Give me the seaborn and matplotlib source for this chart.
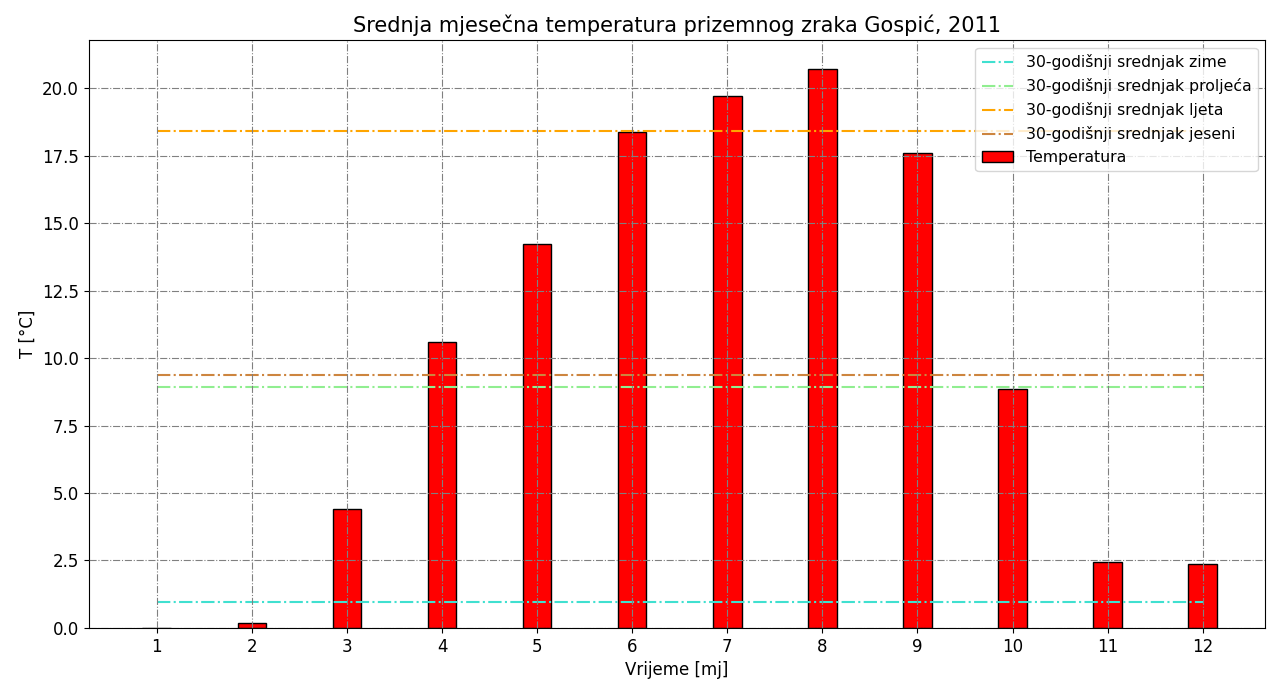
# plot.py
# Mean monthly surface air temperature, Gospic 2011, with 30-year
# seasonal means drawn as horizontal reference lines.

import matplotlib
matplotlib.use('Agg')
import matplotlib.pyplot as plt
import seaborn as sns

months = [1, 2, 3, 4, 5, 6, 7, 8, 9, 10, 11, 12]
temps = [0.0, 0.19, 4.41, 10.59, 14.22, 18.37, 19.70, 20.70, 17.59, 8.85, 2.44, 2.37]

season_labels = [
    '30-godišnji srednjak zime',
    '30-godišnji srednjak proljeća',
    '30-godišnji srednjak ljeta',
    '30-godišnji srednjak jeseni',
]
season_means = [0.96, 8.93, 18.41, 9.37]
season_colors = ['turquoise', 'lightgreen', 'orange', 'peru']

fig, ax = plt.subplots(figsize=(12.68, 6.84), dpi=100)
fig.subplots_adjust(left=0.070, right=0.998, top=0.941, bottom=0.082)

for label, mean, color in zip(season_labels, season_means, season_colors):
    ax.hlines(mean, months[0], months[-1], colors=color, linestyles='-.',
              linewidth=1.5, label=label)

sns.barplot(x=months, y=temps, native_scale=True, width=0.3, color='red',
            saturation=1, edgecolor='black', linewidth=1, errorbar=None,
            label='Temperatura', ax=ax)

ax.set_xticks(months)
ax.set_xticklabels([str(m) for m in months])
ax.set_xlim(0.285, 12.66)
ax.set_ylim(0, 21.78)
ax.set_axisbelow(False)
ax.grid(True, color='gray', linestyle='-.', linewidth=0.8)

ax.set_xlabel('Vrijeme [mj]', fontsize=12)
ax.set_ylabel('T [°C]', fontsize=12)
ax.set_title('Srednja mjesečna temperatura prizemnog zraka Gospić, 2011', fontsize=15)
ax.tick_params(labelsize=12)
ax.legend(loc='upper right', fontsize=11.3)

fig.savefig('out.png', dpi=100)
